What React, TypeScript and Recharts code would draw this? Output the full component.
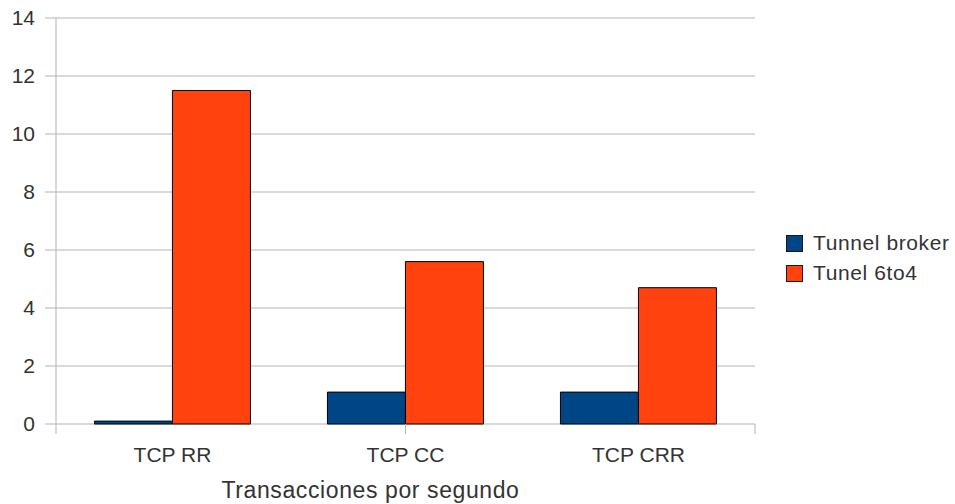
import React from 'react';
import {
  BarChart,
  Bar,
  XAxis,
  YAxis,
  CartesianGrid,
  Legend,
} from 'recharts';

const categories = ['TCP RR', 'TCP CC', 'TCP CRR'];
const tunnelBroker = [0.1, 1.1, 1.1];
const tunel6to4 = [11.5, 5.6, 4.7];
const yTicks = [0, 2, 4, 6, 8, 10, 12, 14];
const boundaryTicks = [0, 1, 2, 3];

const seriesNames = ['Tunnel broker', 'Tunel 6to4'];
const seriesColors = ['#004586', '#ff420e'];

const data = categories.map((name, i) => ({
  name,
  broker: tunnelBroker[i],
  sixto4: tunel6to4[i],
}));

const FONT = '"Liberation Sans", Arial, sans-serif';
const GRID = '#b3b3b3';
const TEXT = '#333333';

const boundaryDomain = [0, 3];
const yDomain = [0, 14];
const gridTickLine = { stroke: GRID };
const gridAxisLine = { stroke: GRID };
const emptyFormatter = () => '';
const tickStyle = { fill: TEXT, fontSize: 21, fontFamily: FONT };
const titleLabel = {
  value: 'Transacciones por segundo',
  position: 'insideBottom' as const,
  offset: 6,
  dx: -35,
  fill: TEXT,
  fontSize: 23,
  fontFamily: FONT,
  letterSpacing: 0.6,
};
const chartMargin = { top: 18, right: 200, left: 0, bottom: 0 };
const legendWrapper = { left: 786, top: 228, width: 170 };

const renderLegend = () => (
  <div style={{ fontFamily: FONT, fontSize: 21, color: TEXT }}>
    {seriesNames.map((n, i) => (
      <div
        key={n}
        style={{ display: 'flex', alignItems: 'center', height: 30 }}
      >
        <span
          style={{
            display: 'inline-block',
            width: 15,
            height: 15,
            background: seriesColors[i],
            border: '1px solid #1a1a1a',
            marginRight: 10,
          }}
        />
        <span style={{ letterSpacing: 0.6 }}>{n}</span>
      </div>
    ))}
  </div>
);

export default function App() {
  return (
    <div style={{ position: 'absolute', left: 0, top: 0, width: 955, height: 504, background: '#fff' }}>
      <BarChart
        width={955}
        height={504}
        data={data}
        margin={chartMargin}
        barCategoryGap="16.5%"
        barGap={0}
      >
        <CartesianGrid
          xAxisId="cat"
          yAxisId="left"
          vertical={false}
          stroke={GRID}
          strokeWidth={1}
        />
        <XAxis
          xAxisId="cat"
          dataKey="name"
          height={79}
          axisLine={false}
          tickLine={false}
          tickSize={0}
          tickMargin={22}
          tick={tickStyle}
          label={titleLabel}
        />
        <XAxis
          xAxisId="axisTicks"
          type="number"
          scale="linear"
          domain={boundaryDomain}
          ticks={boundaryTicks}
          interval={0}
          allowDataOverflow
          height={1}
          axisLine={false}
          tickLine={gridTickLine}
          tickSize={10}
          tickFormatter={emptyFormatter}
        />
        <YAxis
          yAxisId="left"
          width={56}
          domain={yDomain}
          ticks={yTicks}
          interval={0}
          axisLine={gridAxisLine}
          tickLine={gridTickLine}
          tickSize={11}
          tickMargin={10}
          tick={tickStyle}
        />
        <YAxis
          yAxisId="right"
          orientation="right"
          width={0}
          domain={yDomain}
          axisLine={gridAxisLine}
          tick={false}
          tickLine={false}
        />
        <Legend
          layout="vertical"
          align="center"
          verticalAlign="middle"
          content={renderLegend}
          wrapperStyle={legendWrapper}
        />
        <Bar
          xAxisId="cat"
          yAxisId="left"
          dataKey="broker"
          name={seriesNames[0]}
          fill={seriesColors[0]}
          stroke="#000"
          strokeWidth={1}
          isAnimationActive={false}
        />
        <Bar
          xAxisId="cat"
          yAxisId="left"
          dataKey="sixto4"
          name={seriesNames[1]}
          fill={seriesColors[1]}
          stroke="#000"
          strokeWidth={1}
          isAnimationActive={false}
        />
      </BarChart>
    </div>
  );
}
